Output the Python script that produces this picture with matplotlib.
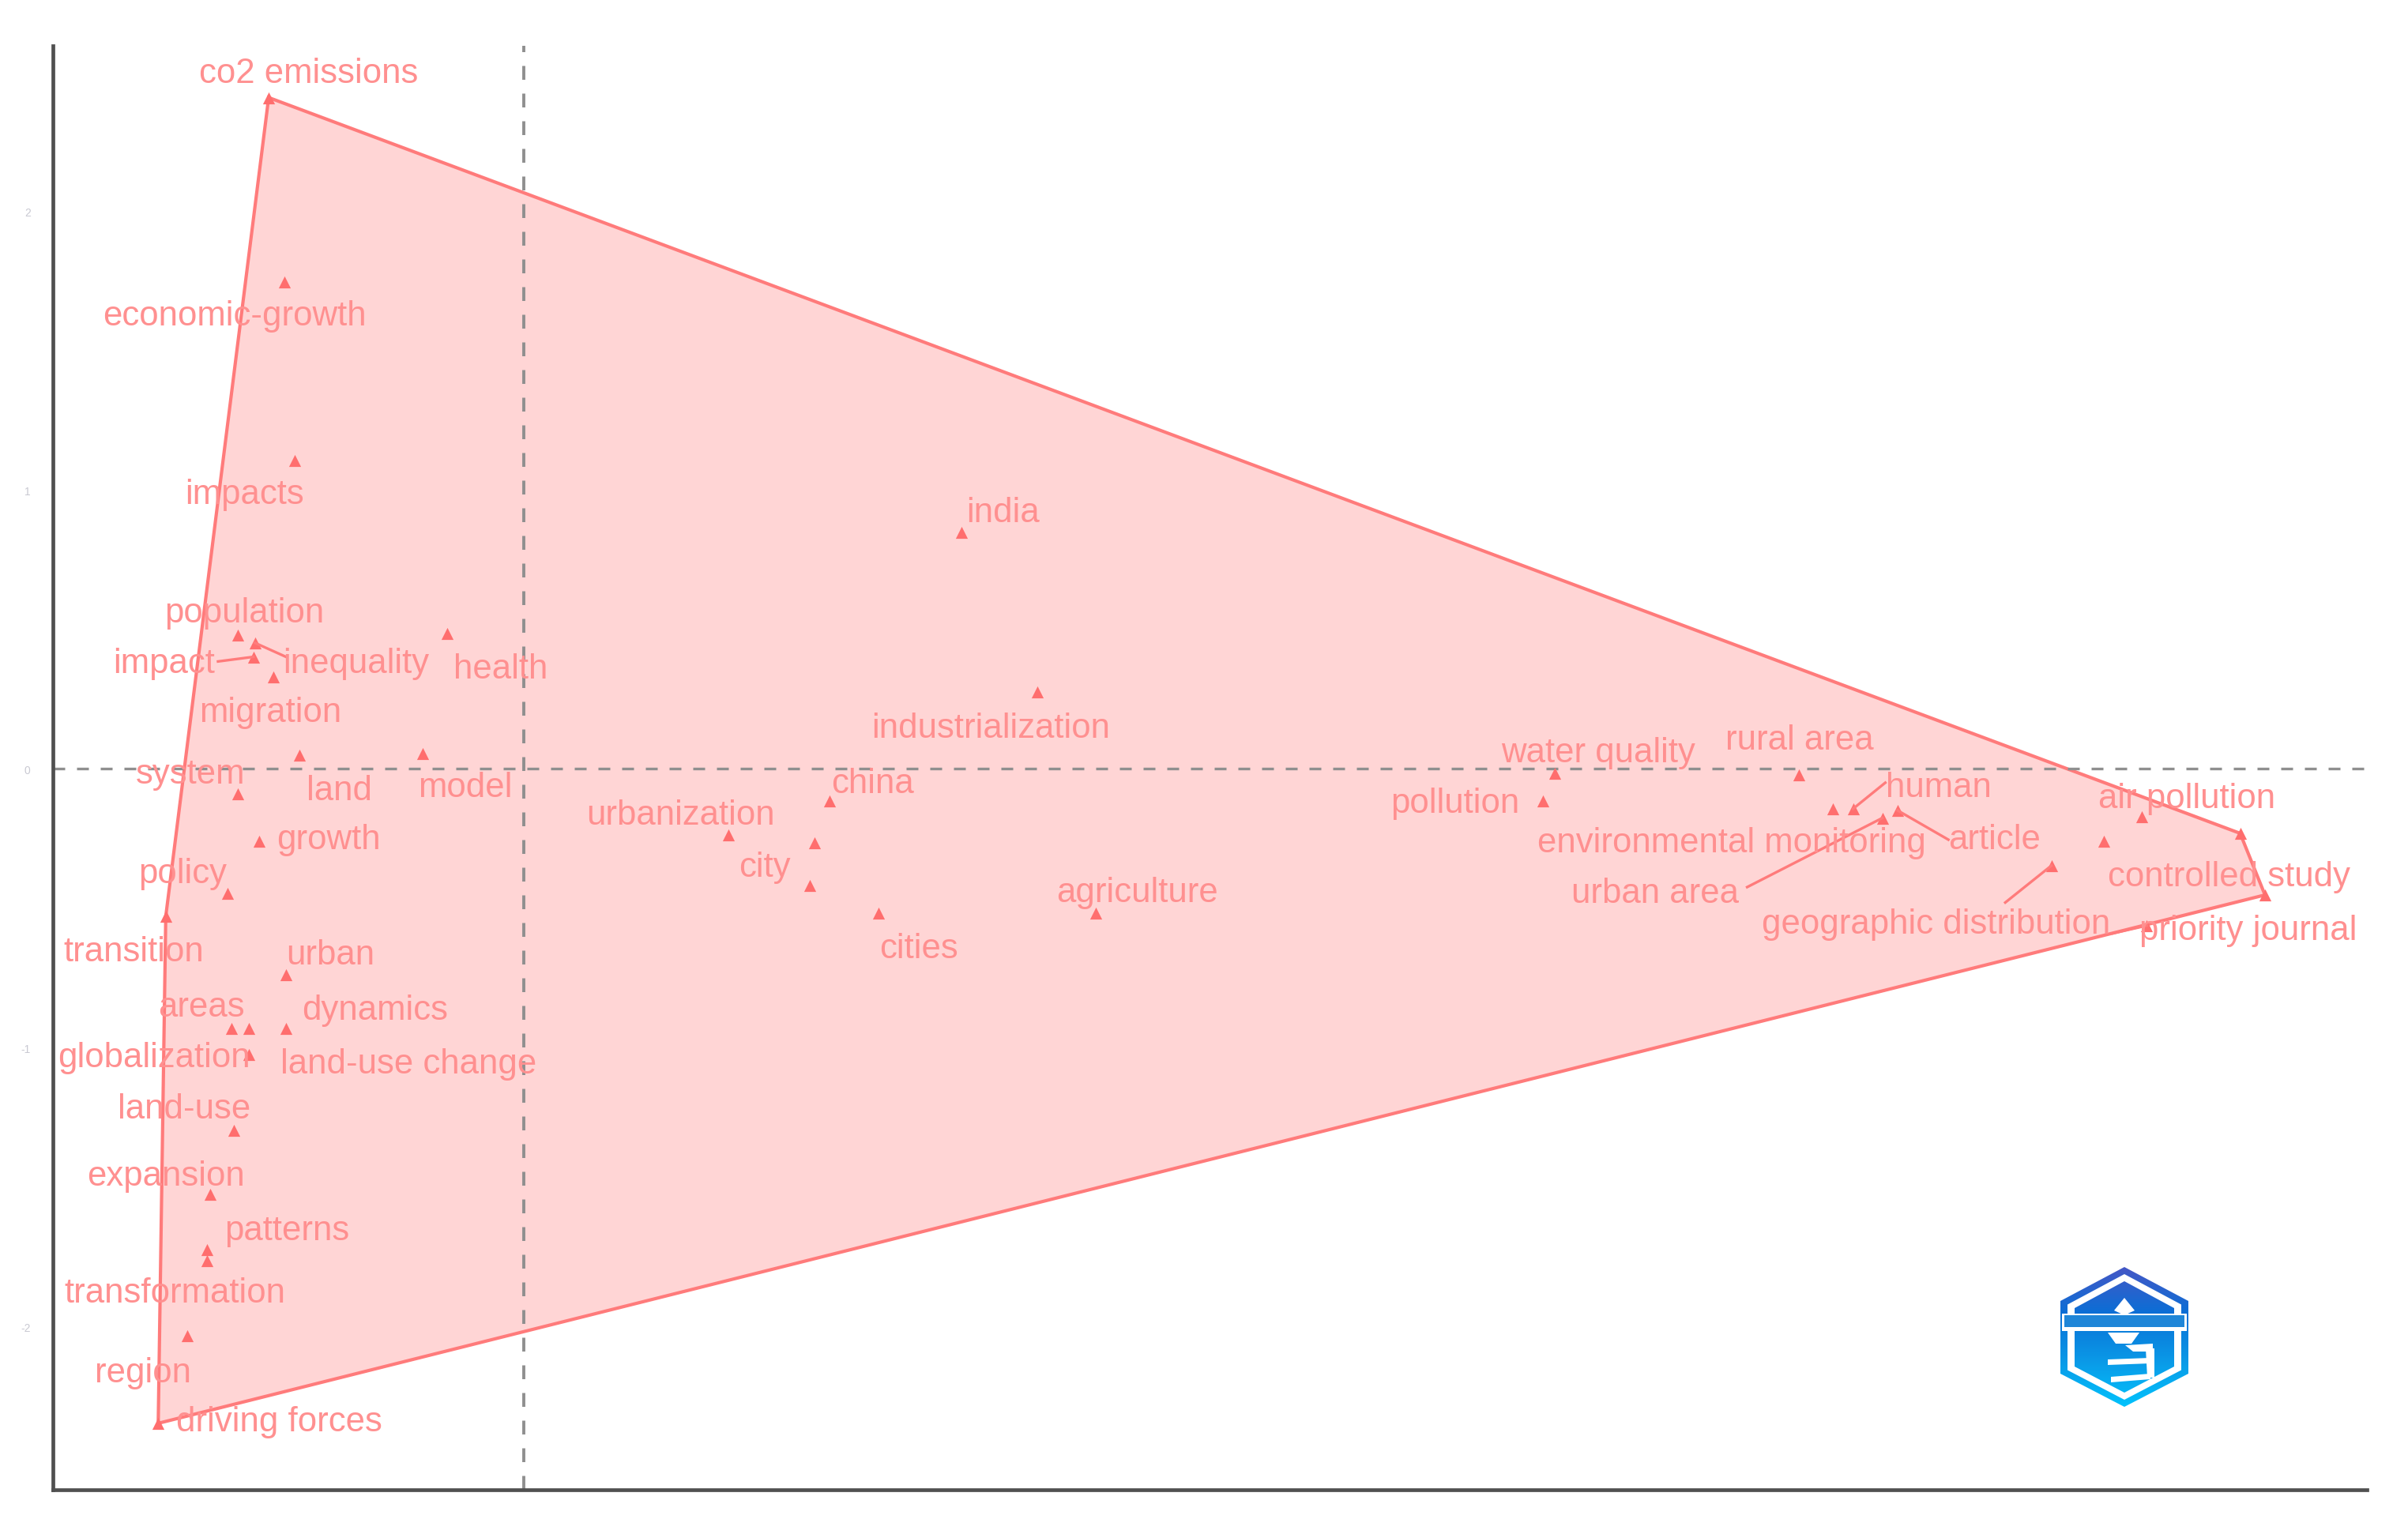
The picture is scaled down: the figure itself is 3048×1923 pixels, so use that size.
import numpy as np
import matplotlib
matplotlib.use("Agg")
import matplotlib.pyplot as plt
from matplotlib.colors import LinearSegmentedColormap
from matplotlib.patches import Polygon

plt.rcParams['font.family'] = ['Liberation Sans', 'DejaVu Sans']

W, H = 3048, 1924
PX = 1.944  # full size px per px of the shrunk reference

# keyword map values (Dim 1, Dim 2)
keywords = ['co2 emissions', 'economic-growth', 'impacts', 'population', 'inequality',
            'impact', 'migration', 'health', 'land', 'model', 'system', 'growth', 'policy',
            'transition', 'urban', 'areas', 'globalization', 'dynamics', 'land-use change',
            'land-use', 'expansion', 'patterns', 'transformation', 'region', 'driving forces',
            'india', 'industrialization', 'china', 'urbanization', 'city', '', 'cities',
            'agriculture', 'water quality', 'rural area', 'pollution',
            'environmental monitoring', 'human', 'urban area', 'article', 'air pollution',
            '', 'geographic distribution', 'controlled study', '', 'priority journal']
dim1 = [-0.915, -0.860, -0.821, -1.025, -0.964, -0.970, -0.898, -0.275, -0.804, -0.364,
        -1.025, -0.948, -1.063, -1.284, -0.854, -1.047, -0.986, -0.854, -0.986, -1.041,
        -1.124, -1.135, -1.135, -1.207, -1.311, 1.570, 1.840, 1.096, 0.733, 1.041, 1.025,
        1.273, 2.050, 3.697, 4.573, 3.653, 4.694, 4.766, 4.871, 4.926, 5.802, 5.664,
        5.477, 6.154, 6.243, 5.819]
dim2 = [2.408, 1.747, 1.107, 0.479, 0.452, 0.402, 0.331, 0.485, 0.050, 0.055, -0.088,
        -0.259, -0.446, -0.529, -0.738, -0.931, -0.931, -0.931, -1.025, -1.295, -1.526,
        -1.725, -1.763, -2.033, -2.347, 0.849, 0.275, -0.116, -0.237, -0.264, -0.419,
        -0.518, -0.518, -0.017, -0.022, -0.116, -0.143, -0.143, -0.176, -0.149, -0.171,
        -0.259, -0.347, -0.231, -0.452, -0.562]

# cluster outline
hull_x = [-0.915, 6.154, 6.243, -1.311, -1.284]
hull_y = [2.408, -0.231, -0.452, -2.347, -0.529]

y_ticks = [2, 1, 0, -1, -2]

# label offset from its point, in px of the shrunk reference
label_offsets = {
    'co2 emissions': (26, 16), 'economic-growth': (-32, -22), 'impacts': (-33, -22),
    'population': (4, 15), 'inequality': (66, -13), 'impact': (-58, -4),
    'migration': (-2, -23), 'health': (35, -23), 'land': (26, -23), 'model': (28, -22),
    'system': (-31, 13), 'growth': (45, 1), 'policy': (-29, 13), 'transition': (-21, -23),
    'urban': (29, 13), 'areas': (-20, 14), 'globalization': (-62, -19), 'dynamics': (58, 12),
    'land-use change': (104, -6), 'land-use': (-32, 14), 'expansion': (-29, 12),
    'patterns': (52, 13), 'transformation': (-21, -21), 'region': (-29, -24),
    'driving forces': (79, 1), 'india': (27, 13), 'industrialization': (-30, -23),
    'china': (28, 12), 'urbanization': (-31, 13), 'city': (-32, -16), 'cities': (26, -23),
    'agriculture': (27, 14), 'water quality': (28, 14), 'rural area': (0, 23),
    'pollution': (-57, -1), 'environmental monitoring': (-66, -22), 'human': (56, 14),
    'urban area': (-148, -49), 'article': (63, -19), 'air pollution': (29, 12),
    'geographic distribution': (-75, -38), 'controlled study': (-7, -28),
    'priority journal': (66, -3),
}
# leader lines, end relative to the point
leaders = {
    'inequality': (20, -9), 'impact': (-23, -3), 'human': (21, 17), 'article': (33, -19),
    'urban area': (-88, -45), 'geographic distribution': (-30, -24),
    'priority journal': (-22, -5),
}

RED = '#ff7b7b'
TXT = '#ff9090'

fig = plt.figure(figsize=(W / 100, H / 100), dpi=100)
ax = fig.add_axes([66.5 / W, 1 - 1886.5 / H, 2930 / W, 1828 / H])
ax.set_xlim(-1.69, 6.61)
ax.set_ylim(-2.584, 2.595)
x_per_px = 8.30 / 2930
y_per_px = 5.179 / 1828

ax.fill(hull_x, hull_y, facecolor='#ffd5d5', edgecolor=RED, linewidth=3, zorder=1)
ax.axhline(0, color='#8f8f8f', linestyle=(0, (4.5, 4.5)), linewidth=2.4, zorder=2)
ax.axvline(0, color='#8f8f8f', linestyle=(0, (4.5, 4.5)), linewidth=2.8, zorder=2)
ax.scatter(dim1, dim2, marker='^', s=120, color='#ff6e6e', linewidths=0, zorder=3)

for name, x, y in zip(keywords, dim1, dim2):
    if name in leaders:
        dx, dy = leaders[name]
        ax.plot([x, x + dx * PX * x_per_px], [y, y + dy * PX * y_per_px],
                color=RED, linewidth=2.4, zorder=3)
    if name:
        dx, dy = label_offsets[name]
        ax.annotate(name, xy=(x, y), xytext=(dx * PX, dy * PX), textcoords='offset pixels',
                    ha='center', va='center', fontsize=31.5, color=TXT, zorder=4)

for side in ['top', 'right']:
    ax.spines[side].set_visible(False)
for side in ['left', 'bottom']:
    ax.spines[side].set_linewidth(3.4)
    ax.spines[side].set_color('#505050')
ax.set_xticks([])
ax.set_yticks(y_ticks)
ax.set_yticklabels([str(v) for v in y_ticks], fontsize=10, color='#c9c9d2')
ax.tick_params(axis='y', length=0, pad=20)

# logo, bottom right
logo = fig.add_axes([2600 / W, 1 - 1790 / H, 180 / W, 190 / H])
logo.set_xlim(2600, 2780)
logo.set_ylim(1790, 1600)
logo.axis('off')


def hexagon(inset):
    return [(2689, 1605 + inset), (2770 - inset, 1648 + inset * 0.5),
            (2770 - inset, 1740 - inset * 0.5), (2689, 1782 - inset),
            (2608 + inset, 1740 - inset * 0.5), (2608 + inset, 1648 + inset * 0.5)]


grad = np.linspace(0, 1, 200).reshape(-1, 1)
cmap = LinearSegmentedColormap.from_list('logo', ['#4a55c4', '#0a6fd6', '#0a9be8', '#00c8ff'])
outer = logo.imshow(grad, cmap=cmap, extent=(2600, 2780, 1790, 1600), aspect='auto', zorder=1)
outer.set_clip_path(Polygon(hexagon(0), transform=logo.transData))
logo.add_patch(Polygon(hexagon(9), facecolor='white', edgecolor='none', zorder=2))
inner = logo.imshow(grad, cmap=cmap, extent=(2600, 2780, 1790, 1600), aspect='auto', zorder=3)
inner.set_clip_path(Polygon(hexagon(18), transform=logo.transData))
logo.add_patch(Polygon([(2610, 1664), (2768, 1664), (2768, 1686), (2610, 1686)],
                       facecolor='white', edgecolor='none', zorder=3.5))
logo.add_patch(Polygon([(2613, 1666), (2765, 1666), (2765, 1681), (2613, 1681)],
                       facecolor='#1f86d8', edgecolor='none', zorder=4))
for pts in [[(2689, 1644), (2702, 1660), (2689, 1666), (2676, 1660)],
            [(2668, 1688), (2708, 1688), (2698, 1702), (2678, 1702)],
            [(2690, 1704), (2725, 1702), (2725, 1712), (2700, 1712)],
            [(2668, 1722), (2722, 1720), (2722, 1727), (2668, 1729)],
            [(2672, 1744), (2722, 1740), (2722, 1747), (2672, 1751)],
            [(2716, 1708), (2727, 1708), (2727, 1745), (2718, 1745)]]:
    logo.add_patch(Polygon(pts, facecolor='white', edgecolor='none', zorder=5))

fig.savefig('out.png', dpi=100, facecolor='white')
